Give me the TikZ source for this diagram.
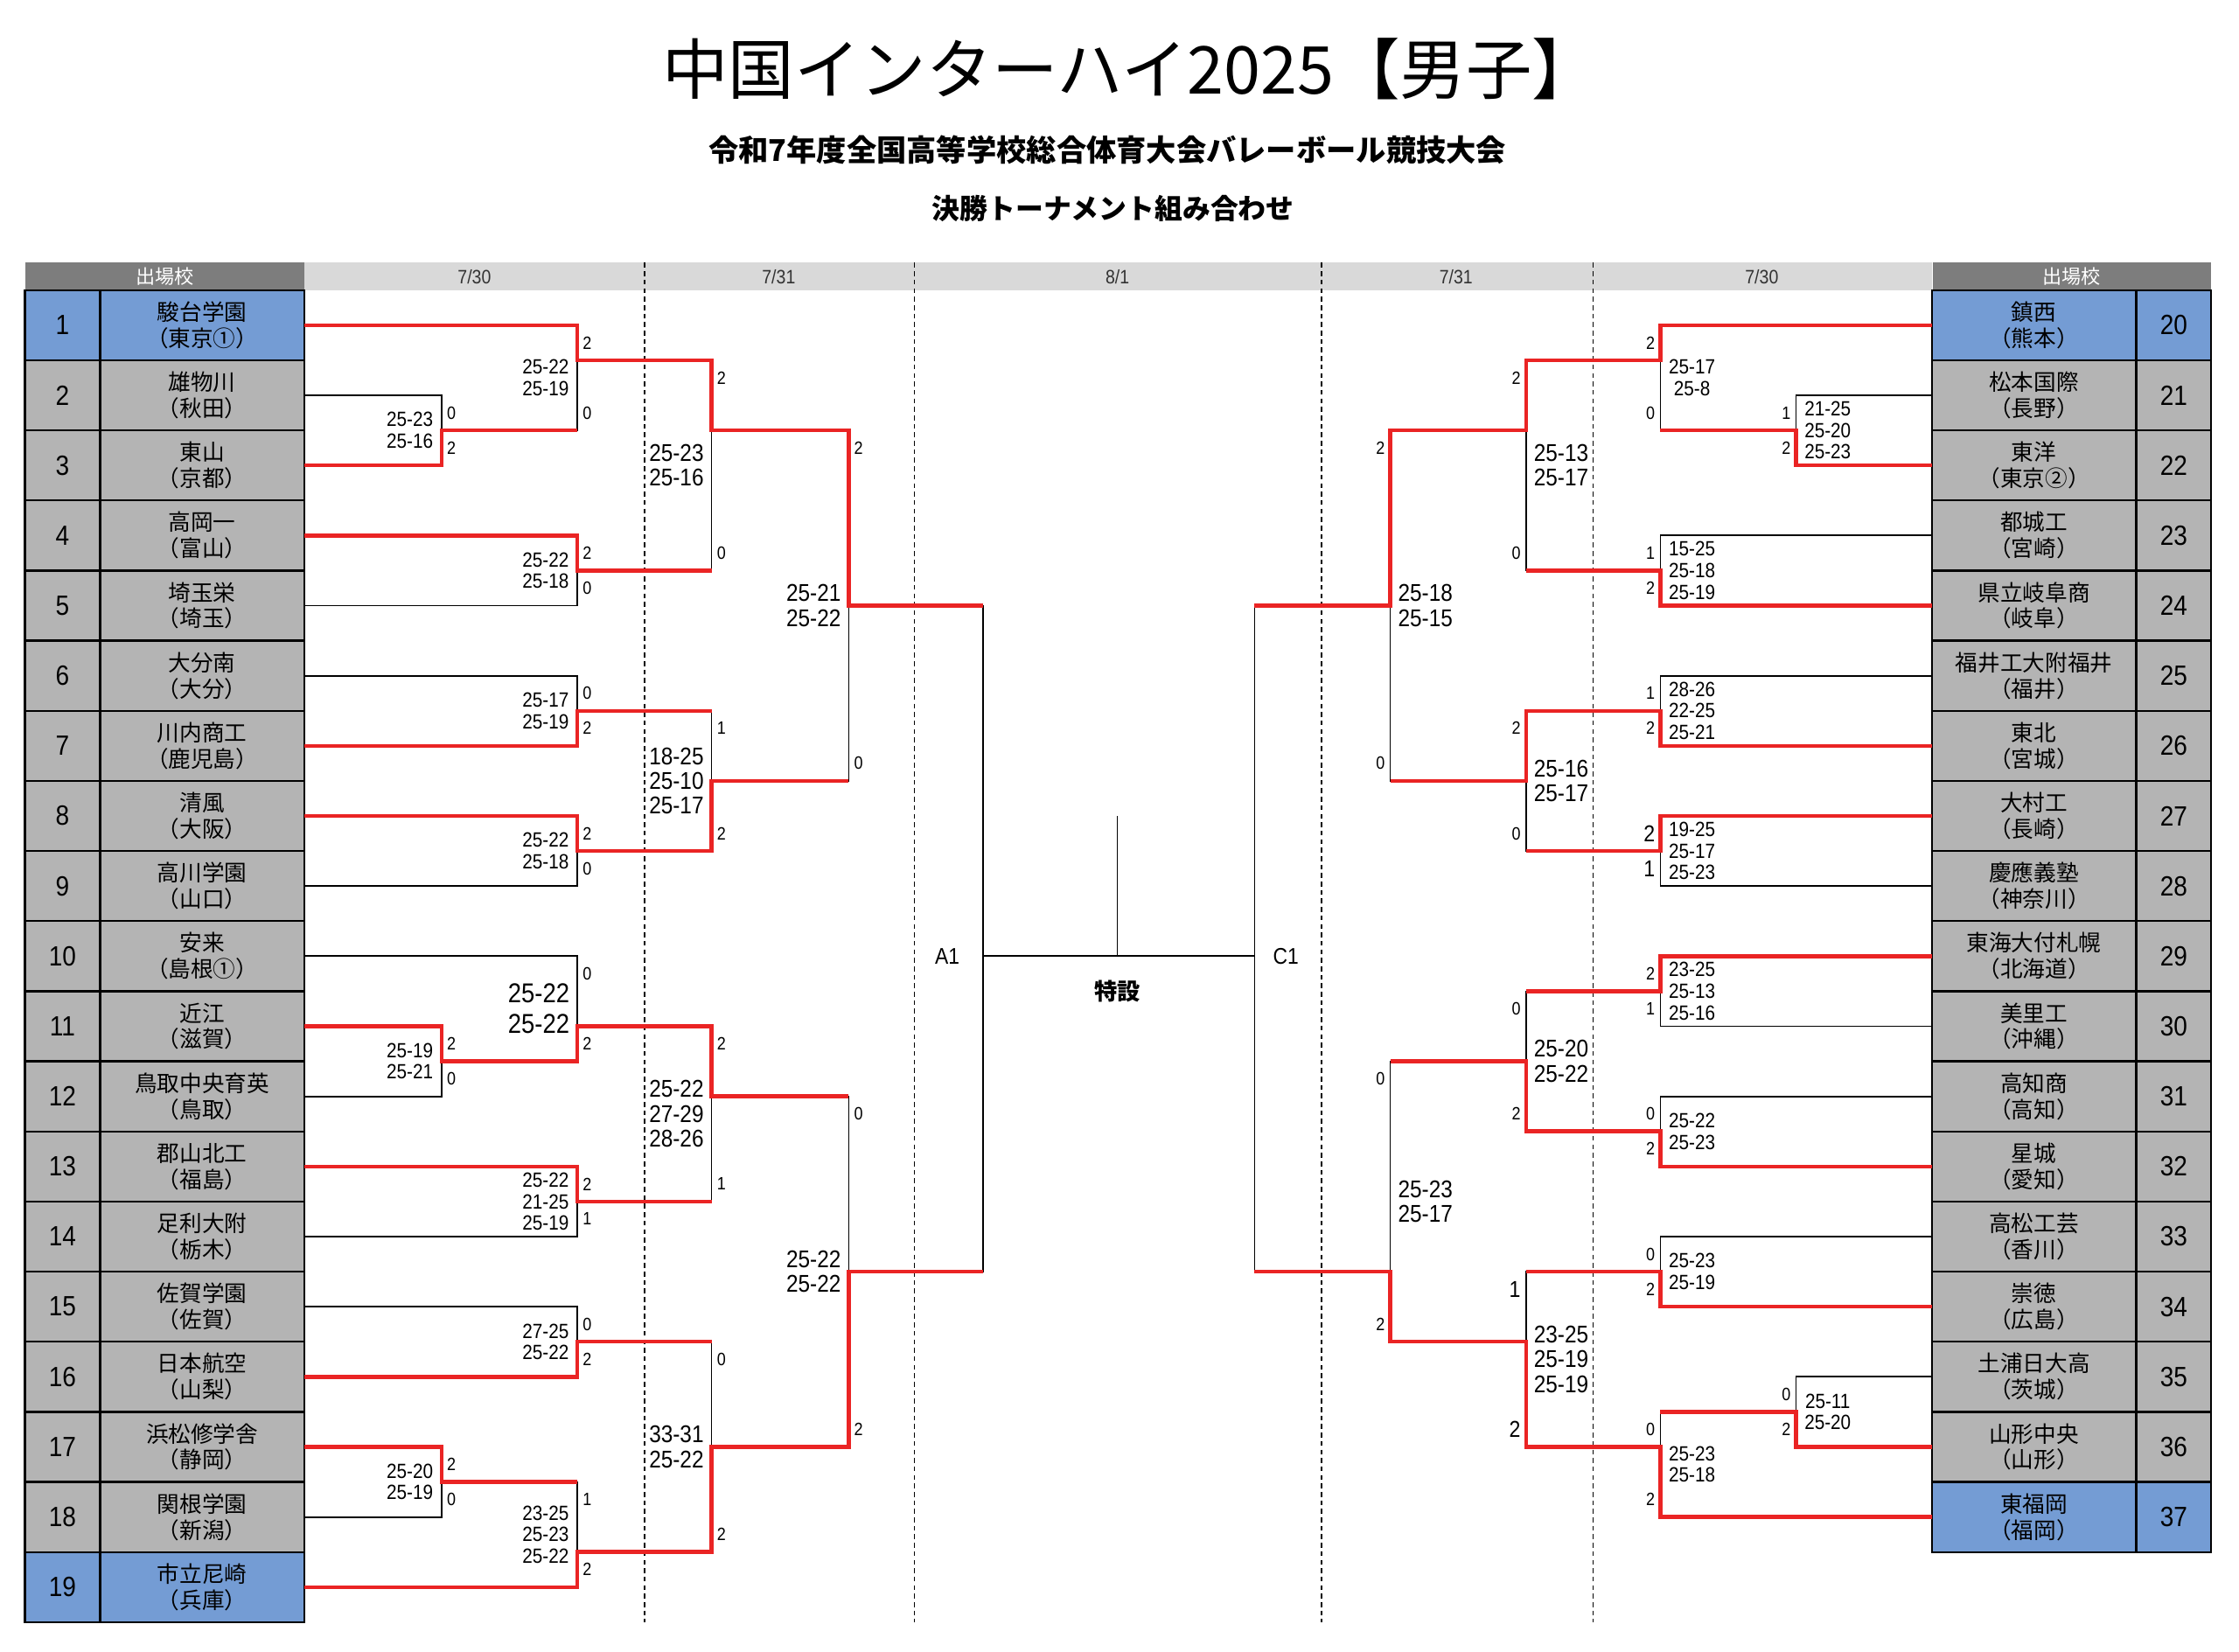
\documentclass[tikz,border=0pt]{standalone}
\usepackage{fontspec}
\setmainfont{Liberation Sans}[FakeStretch=0.88]
\newfontfamily\jp{Noto Sans CJK JP}
\usetikzlibrary{positioning}

\definecolor{cellgray}{RGB}{180,180,180}
\definecolor{cellblue}{RGB}{116,156,212}
\definecolor{headdark}{RGB}{125,125,125}
\definecolor{headlight}{RGB}{217,217,217}
\definecolor{winred}{RGB}{234,36,36}

\begin{document}
\begin{tikzpicture} [
	x=0.016592cm, y=-0.40694cm,
	text centered,
	node distance=0cm,
	team/.style={
		rectangle,minimum width=2.3727cm,minimum height=0.81388cm,
		inner sep=0pt,outer sep=0pt,draw=black,line width=0.7pt,
		fill=cellgray,font=\jp\fontsize{7.4}{8.6}\selectfont,align=center
	},
	num/.style={
		team,minimum width=0.8711cm,font=\fontsize{9.2}{10}\selectfont
	},
	seed/.style={fill=cellblue},
	hdark/.style={
		rectangle,minimum width=3.2354cm,minimum height=0.3174cm,inner sep=0pt,
		fill=headdark,text=white,font=\jp\fontsize{6.4}{7}\selectfont
	},
	hlight/.style={
		rectangle,minimum width=18.898cm,minimum height=0.3174cm,inner sep=0pt,
		fill=headlight
	},
	date/.style={font=\fontsize{6.4}{7}\selectfont,text=black!80,inner sep=0pt},
	bline/.style={draw=black,line width=0.5pt},
	wline/.style={draw=winred,line width=1.3pt},
	dayline/.style={draw=black,line width=0.45pt,dash pattern=on 1.6pt off 1.2pt},
	sc/.style={font=\fontsize{6.8}{7.1}\selectfont,align=center,inner sep=2.6pt},
	scb/.style={font=\fontsize{8}{8.2}\selectfont,align=center,inner sep=2.4pt},
	sch/.style={font=\fontsize{9}{10}\selectfont,align=center,inner sep=2.4pt},
	gm/.style={font=\fontsize{5.9}{6}\selectfont,inner sep=1.6pt},
	gmb/.style={font=\fontsize{7.6}{8}\selectfont,inner sep=1.6pt}
]
\useasboundingbox (0,-8.277) rectangle (1567,38.844);

% titles
\node [font=\jp\fontsize{21.8}{24}\selectfont] (title) at (791,-6.32) {中国インターハイ2025【男子】};
\node [font=\jp\bfseries\fontsize{9.9}{11}\selectfont] (sub1) at (775,-4.0) {令和7年度全国高等学校総合体育大会バレーボール競技大会};
\node [font=\jp\bfseries\fontsize{9.2}{11}\selectfont] (sub2) at (779,-2.32) {決勝トーナメント組み合わせ};

% header
\node [hlight] (hbar) at (782.5,-0.39) {};
\node [hdark] (hl) at (115.5,-0.39) {出場校};
\node [hdark] (hr) at (1450,-0.39) {出場校};
\node [date] (d1) at (332,-0.39) {7/30};
\node [date] (d2) at (545,-0.39) {7/31};
\node [date] (d3) at (782,-0.39) {8/1};
\node [date] (d4) at (1019,-0.39) {7/31};
\node [date] (d5) at (1233,-0.39) {7/30};
\draw [dayline] (451,-0.78) -- (451,38);
\draw [dayline] (640,-0.78) -- (640,38);
\draw [dayline] (925,-0.78) -- (925,38);
\draw [dayline] (1115,-0.78) -- (1115,38);

% left schools
\node [team,seed] (t1) at (141.5,1) {駿台学園\\（東京①）};
\node [team] (t2)[below=of t1] {雄物川\\（秋田）};
\node [team] (t3)[below=of t2] {東山\\（京都）};
\node [team] (t4)[below=of t3] {高岡一\\（富山）};
\node [team] (t5)[below=of t4] {埼玉栄\\（埼玉）};
\node [team] (t6)[below=of t5] {大分南\\（大分）};
\node [team] (t7)[below=of t6] {川内商工\\（鹿児島）};
\node [team] (t8)[below=of t7] {清風\\（大阪）};
\node [team] (t9)[below=of t8] {高川学園\\（山口）};
\node [team] (t10)[below=of t9] {安来\\（島根①）};
\node [team] (t11)[below=of t10] {近江\\（滋賀）};
\node [team] (t12)[below=of t11] {鳥取中央育英\\（鳥取）};
\node [team] (t13)[below=of t12] {郡山北工\\（福島）};
\node [team] (t14)[below=of t13] {足利大附\\（栃木）};
\node [team] (t15)[below=of t14] {佐賀学園\\（佐賀）};
\node [team] (t16)[below=of t15] {日本航空\\（山梨）};
\node [team] (t17)[below=of t16] {浜松修学舎\\（静岡）};
\node [team] (t18)[below=of t17] {関根学園\\（新潟）};
\node [team,seed] (t19)[below=of t18] {市立尼崎\\（兵庫）};
\node [num,seed] (n1)[left=of t1] {1};
\node [num] (n2)[left=of t2] {2};
\node [num] (n3)[left=of t3] {3};
\node [num] (n4)[left=of t4] {4};
\node [num] (n5)[left=of t5] {5};
\node [num] (n6)[left=of t6] {6};
\node [num] (n7)[left=of t7] {7};
\node [num] (n8)[left=of t8] {8};
\node [num] (n9)[left=of t9] {9};
\node [num] (n10)[left=of t10] {10};
\node [num] (n11)[left=of t11] {11};
\node [num] (n12)[left=of t12] {12};
\node [num] (n13)[left=of t13] {13};
\node [num] (n14)[left=of t14] {14};
\node [num] (n15)[left=of t15] {15};
\node [num] (n16)[left=of t16] {16};
\node [num] (n17)[left=of t17] {17};
\node [num] (n18)[left=of t18] {18};
\node [num,seed] (n19)[left=of t19] {19};

% right schools
\node [team,seed] (t20) at (1423.5,1) {鎮西\\（熊本）};
\node [team] (t21)[below=of t20] {松本国際\\（長野）};
\node [team] (t22)[below=of t21] {東洋\\（東京②）};
\node [team] (t23)[below=of t22] {都城工\\（宮崎）};
\node [team] (t24)[below=of t23] {県立岐阜商\\（岐阜）};
\node [team] (t25)[below=of t24] {福井工大附福井\\（福井）};
\node [team] (t26)[below=of t25] {東北\\（宮城）};
\node [team] (t27)[below=of t26] {大村工\\（長崎）};
\node [team] (t28)[below=of t27] {慶應義塾\\（神奈川）};
\node [team] (t29)[below=of t28] {東海大付札幌\\（北海道）};
\node [team] (t30)[below=of t29] {美里工\\（沖縄）};
\node [team] (t31)[below=of t30] {高知商\\（高知）};
\node [team] (t32)[below=of t31] {星城\\（愛知）};
\node [team] (t33)[below=of t32] {高松工芸\\（香川）};
\node [team] (t34)[below=of t33] {崇徳\\（広島）};
\node [team] (t35)[below=of t34] {土浦日大高\\（茨城）};
\node [team] (t36)[below=of t35] {山形中央\\（山形）};
\node [team,seed] (t37)[below=of t36] {東福岡\\（福岡）};
\node [num,seed] (n20)[right=of t20] {20};
\node [num] (n21)[right=of t21] {21};
\node [num] (n22)[right=of t22] {22};
\node [num] (n23)[right=of t23] {23};
\node [num] (n24)[right=of t24] {24};
\node [num] (n25)[right=of t25] {25};
\node [num] (n26)[right=of t26] {26};
\node [num] (n27)[right=of t27] {27};
\node [num] (n28)[right=of t28] {28};
\node [num] (n29)[right=of t29] {29};
\node [num] (n30)[right=of t30] {30};
\node [num] (n31)[right=of t31] {31};
\node [num] (n32)[right=of t32] {32};
\node [num] (n33)[right=of t33] {33};
\node [num] (n34)[right=of t34] {34};
\node [num] (n35)[right=of t35] {35};
\node [num] (n36)[right=of t36] {36};
\node [num,seed] (n37)[right=of t37] {37};

% match points
\coordinate (la) at (309,4);
\coordinate (lb) at (404,2);
\coordinate (lc) at (404,8);
\coordinate (ld) at (498,4);
\coordinate (le) at (404,12);
\coordinate (lf) at (404,16);
\coordinate (lg) at (498,14);
\coordinate (lh) at (594,9);
\coordinate (lj) at (309,22);
\coordinate (li) at (404,21);
\coordinate (lk) at (404,26);
\coordinate (ll) at (498,23);
\coordinate (lm) at (404,30);
\coordinate (ln) at (309,34);
\coordinate (lo) at (404,36);
\coordinate (lp) at (498,33);
\coordinate (lq) at (594,28);
\coordinate (ra) at (1257,4);
\coordinate (rb) at (1162,2);
\coordinate (rc) at (1162,8);
\coordinate (rd) at (1068,4);
\coordinate (re) at (1162,12);
\coordinate (rf) at (1162,16);
\coordinate (rg) at (1068,14);
\coordinate (rh) at (973,9);
\coordinate (ri) at (1162,20);
\coordinate (rj) at (1162,24);
\coordinate (rk) at (1068,22);
\coordinate (rl) at (1162,28);
\coordinate (rm) at (1257,32);
\coordinate (rn) at (1162,33);
\coordinate (ro) at (1068,30);
\coordinate (rp) at (973,28);
\coordinate (sa) at (688,19);
\coordinate (sc) at (878,19);
\coordinate (fin) at (782,19);
\coordinate (fintop) at (782,15);

% bracket
\draw [bline] (t2.east) -| (la) |- (t3.east);
\draw [bline] (t1.east) -| (lb) |- (la);
\draw [bline] (t4.east) -| (lc) |- (t5.east);
\draw [bline] (lb) -| (ld) |- (lc);
\draw [bline] (t6.east) -| (le) |- (t7.east);
\draw [bline] (t8.east) -| (lf) |- (t9.east);
\draw [bline] (le) -| (lg) |- (lf);
\draw [bline] (ld) -| (lh) |- (lg);
\draw [bline] (t11.east) -| (lj) |- (t12.east);
\draw [bline] (t10.east) -| (li) |- (lj);
\draw [bline] (t13.east) -| (lk) |- (t14.east);
\draw [bline] (li) -| (ll) |- (lk);
\draw [bline] (t15.east) -| (lm) |- (t16.east);
\draw [bline] (t17.east) -| (ln) |- (t18.east);
\draw [bline] (ln) -| (lo) |- (t19.east);
\draw [bline] (lm) -| (lp) |- (lo);
\draw [bline] (ll) -| (lq) |- (lp);
\draw [bline] (lh) -| (sa) |- (lq);
\draw [bline] (sa) -- (fin) -- (sc);
\draw [bline] (fin) -- (fintop);
\draw [bline] (rh) -| (sc) |- (rp);
\draw [bline] (t21.west) -| (ra) |- (t22.west);
\draw [bline] (t20.west) -| (rb) |- (ra);
\draw [bline] (t23.west) -| (rc) |- (t24.west);
\draw [bline] (rb) -| (rd) |- (rc);
\draw [bline] (t25.west) -| (re) |- (t26.west);
\draw [bline] (t27.west) -| (rf) |- (t28.west);
\draw [bline] (re) -| (rg) |- (rf);
\draw [bline] (rd) -| (rh) |- (rg);
\draw [bline] (t29.west) -| (ri) |- (t30.west);
\draw [bline] (t31.west) -| (rj) |- (t32.west);
\draw [bline] (ri) -| (rk) |- (rj);
\draw [bline] (t33.west) -| (rl) |- (t34.west);
\draw [bline] (t35.west) -| (rm) |- (t36.west);
\draw [bline] (rm) -| (rn) |- (t37.west);
\draw [bline] (rl) -| (ro) |- (rn);
\draw [bline] (rk) -| (rp) |- (ro);

% winners
\draw [wline] (t1.east) -| (lb) -| (ld) -| (lh) -- (lh -| sa);
\draw [wline] (t3.east) -| (la) -- (la -| lb);
\draw [wline] (t4.east) -| (lc) -- (lc -| ld);
\draw [wline] (t7.east) -| (le) -- (le -| lg);
\draw [wline] (t8.east) -| (lf) -| (lg) -- (lg -| lh);
\draw [wline] (t11.east) -| (lj) -| (li) -| (ll) -- (ll -| lq);
\draw [wline] (t13.east) -| (lk) -- (lk -| ll);
\draw [wline] (t16.east) -| (lm) -- (lm -| lp);
\draw [wline] (t17.east) -| (ln) -- (ln -| lo);
\draw [wline] (t19.east) -| (lo) -| (lp) -| (lq) -- (lq -| sa);
\draw [wline] (t20.west) -| (rb) -| (rd) -| (rh) -- (rh -| sc);
\draw [wline] (t22.west) -| (ra) -- (ra -| rb);
\draw [wline] (t24.west) -| (rc) -- (rc -| rd);
\draw [wline] (t26.west) -| (re) -| (rg) -- (rg -| rh);
\draw [wline] (t27.west) -| (rf) -- (rf -| rg);
\draw [wline] (t29.west) -| (ri) -- (ri -| rk);
\draw [wline] (t32.west) -| (rj) -| (rk) -- (rk -| rp);
\draw [wline] (t34.west) -| (rl) -- (rl -| ro);
\draw [wline] (t36.west) -| (rm) -- (rm -| rn);
\draw [wline] (t37.west) -| (rn) -| (ro) -| (rp) -- (rp -| sc);

% final
\node [font=\fontsize{7.5}{8}\selectfont] (a1) at (663,19) {A1};
\node [font=\fontsize{7.5}{8}\selectfont] (c1) at (900,19) {C1};
\node [font=\jp\bfseries\fontsize{7.6}{8}\selectfont] (toku) at (782,20) {特設};

% left scores
\node [sc,left] (sla) at (309,4) {25-23\\25-16};
\node [sc,left] (slb) at (404,2.5) {25-22\\25-19};
\node [sc,left] (slc) at (404,8) {25-22\\25-18};
\node [scb,left] (sld) at (498,5) {25-23\\25-16};
\node [sc,left] (sle) at (404,12) {25-17\\25-19};
\node [sc,left] (slf) at (404,16) {25-22\\25-18};
\node [scb,left] (slg) at (498,14) {18-25\\25-10\\25-17};
\node [scb,left] (slh) at (594,9) {25-21\\25-22};
\node [sc,left] (slj) at (309,22) {25-19\\25-21};
\node [sch,left] (sli) at (404,20.5) {25-22\\25-22};
\node [sc,left] (slk) at (404,26) {25-22\\21-25\\25-19};
\node [scb,left] (sll) at (498,23.5) {25-22\\27-29\\28-26};
\node [sc,left] (slm) at (404,30) {27-25\\25-22};
\node [sc,left] (sln) at (309,34) {25-20\\25-19};
\node [sc,left] (slo) at (404,35.5) {23-25\\25-23\\25-22};
\node [scb,left] (slp) at (498,33) {33-31\\25-22};
\node [scb,left] (slq) at (594,28) {25-22\\25-22};

% left sets
\node [gm,right] (gla1) at (309,3.5) {0};
\node [gm,right] (gla2) at (309,4.5) {2};
\node [gm,right] (glb1) at (404,1.5) {2};
\node [gm,right] (glb2) at (404,3.5) {0};
\node [gm,right] (glc1) at (404,7.5) {2};
\node [gm,right] (glc2) at (404,8.5) {0};
\node [gm,right] (gld1) at (498,2.5) {2};
\node [gm,right] (gld2) at (498,7.5) {0};
\node [gm,right] (gle1) at (404,11.5) {0};
\node [gm,right] (gle2) at (404,12.5) {2};
\node [gm,right] (glf1) at (404,15.5) {2};
\node [gm,right] (glf2) at (404,16.5) {0};
\node [gm,right] (glg1) at (498,12.5) {1};
\node [gm,right] (glg2) at (498,15.5) {2};
\node [gm,right] (glh1) at (594,4.5) {2};
\node [gm,right] (glh2) at (594,13.5) {0};
\node [gm,right] (glj1) at (309,21.5) {2};
\node [gm,right] (glj2) at (309,22.5) {0};
\node [gm,right] (gli1) at (404,19.5) {0};
\node [gm,right] (gli2) at (404,21.5) {2};
\node [gm,right] (glk1) at (404,25.5) {2};
\node [gm,right] (glk2) at (404,26.5) {1};
\node [gm,right] (gll1) at (498,21.5) {2};
\node [gm,right] (gll2) at (498,25.5) {1};
\node [gm,right] (glm1) at (404,29.5) {0};
\node [gm,right] (glm2) at (404,30.5) {2};
\node [gm,right] (gln1) at (309,33.5) {2};
\node [gm,right] (gln2) at (309,34.5) {0};
\node [gm,right] (glo1) at (404,34.5) {1};
\node [gm,right] (glo2) at (404,36.5) {2};
\node [gm,right] (glp1) at (498,30.5) {0};
\node [gm,right] (glp2) at (498,35.5) {2};
\node [gm,right] (glq1) at (594,23.5) {0};
\node [gm,right] (glq2) at (594,32.5) {2};

% right scores
\node [sc,right] (sra) at (1257,4) {21-25\\25-20\\25-23};
\node [sc,right] (srb) at (1162,2.5) {25-17\\25-8};
\node [sc,right] (src) at (1162,8) {15-25\\25-18\\25-19};
\node [scb,right] (srd) at (1068,5) {25-13\\25-17};
\node [sc,right] (sre) at (1162,12) {28-26\\22-25\\25-21};
\node [sc,right] (srf) at (1162,16) {19-25\\25-17\\25-23};
\node [scb,right] (srg) at (1068,14) {25-16\\25-17};
\node [scb,right] (srh) at (973,9) {25-18\\25-15};
\node [sc,right] (sri) at (1162,20) {23-25\\25-13\\25-16};
\node [sc,right] (srj) at (1162,24) {25-22\\25-23};
\node [scb,right] (srk) at (1068,22) {25-20\\25-22};
\node [sc,right] (srl) at (1162,28) {25-23\\25-19};
\node [sc,right] (srm) at (1257,32) {25-11\\25-20};
\node [sc,right] (srn) at (1162,33.5) {25-23\\25-18};
\node [scb,right] (sro) at (1068,30.5) {23-25\\25-19\\25-19};
\node [scb,right] (srp) at (973,26) {25-23\\25-17};

% right sets
\node [gm,left] (gra1) at (1257,3.5) {1};
\node [gm,left] (gra2) at (1257,4.5) {2};
\node [gm,left] (grb1) at (1162,1.5) {2};
\node [gm,left] (grb2) at (1162,3.5) {0};
\node [gm,left] (grc1) at (1162,7.5) {1};
\node [gm,left] (grc2) at (1162,8.5) {2};
\node [gm,left] (grd1) at (1068,2.5) {2};
\node [gm,left] (grd2) at (1068,7.5) {0};
\node [gm,left] (gre1) at (1162,11.5) {1};
\node [gm,left] (gre2) at (1162,12.5) {2};
\node [gmb,left] (grf1) at (1162,15.5) {2};
\node [gmb,left] (grf2) at (1162,16.5) {1};
\node [gm,left] (grg1) at (1068,12.5) {2};
\node [gm,left] (grg2) at (1068,15.5) {0};
\node [gm,left] (grh1) at (973,4.5) {2};
\node [gm,left] (grh2) at (973,13.5) {0};
\node [gm,left] (gri1) at (1162,19.5) {2};
\node [gm,left] (gri2) at (1162,20.5) {1};
\node [gm,left] (grj1) at (1162,23.5) {0};
\node [gm,left] (grj2) at (1162,24.5) {2};
\node [gm,left] (grk1) at (1068,20.5) {0};
\node [gm,left] (grk2) at (1068,23.5) {2};
\node [gm,left] (grl1) at (1162,27.5) {0};
\node [gm,left] (grl2) at (1162,28.5) {2};
\node [gm,left] (grm1) at (1257,31.5) {0};
\node [gm,left] (grm2) at (1257,32.5) {2};
\node [gm,left] (grn1) at (1162,32.5) {0};
\node [gm,left] (grn2) at (1162,34.5) {2};
\node [gmb,left] (gro1) at (1068,28.5) {1};
\node [gmb,left] (gro2) at (1068,32.5) {2};
\node [gm,left] (grp1) at (973,22.5) {0};
\node [gm,left] (grp2) at (973,29.5) {2};
\end{tikzpicture}
\end{document}
